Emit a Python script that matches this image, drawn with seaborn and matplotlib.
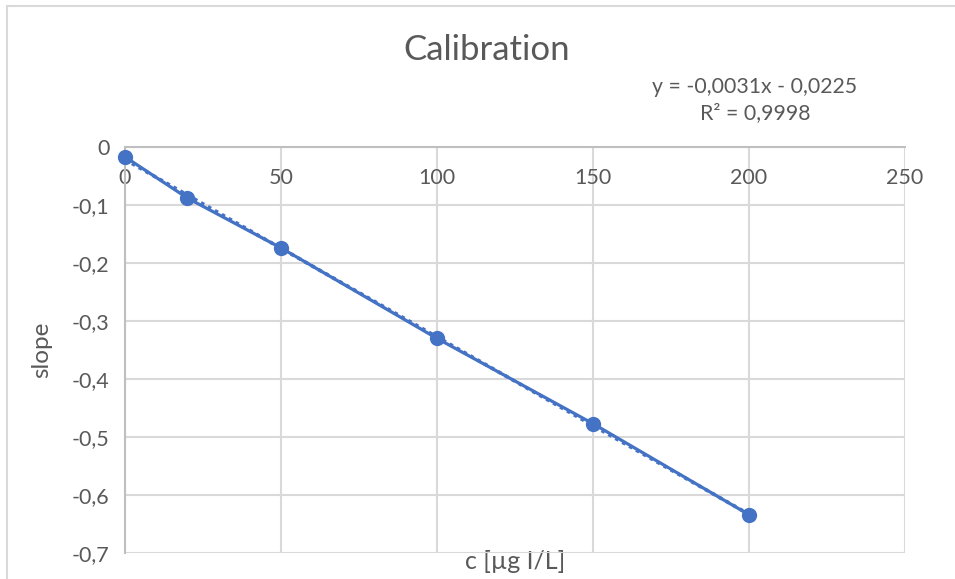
import numpy as np
import pandas as pd
import matplotlib
matplotlib.use("Agg")
import matplotlib.pyplot as plt
import seaborn as sns
from matplotlib.patches import Rectangle
from matplotlib.ticker import FuncFormatter

# data
conc = [0, 20, 50, 100, 150, 200]
slope = [-0.017, -0.088, -0.174, -0.330, -0.477, -0.634]
x_ticks = [0, 50, 100, 150, 200, 250]
y_ticks = [0, -0.1, -0.2, -0.3, -0.4, -0.5, -0.6, -0.7]
title = "Calibration"
x_label = "c [µg I/L]"
y_label = "slope"
eq_text = "y = -0,0031x - 0,0225\nR² = 0,9998"

df = pd.DataFrame({"c": conc, "slope": slope})

sns.set_theme(style="white")
plt.rcParams["font.family"] = ["Lato", "DejaVu Sans"]
TXT = "#595959"
BLUE = "#4472C4"
GRID = "#d9d9d9"

fig = plt.figure(figsize=(9.55, 5.79), dpi=100)
fig.patch.set_facecolor("white")
# chart border (extends beyond right/bottom edges)
fig.patches.append(Rectangle((7 / 955, -0.1), 1.2, 1 - 6 / 579 + 0.1,
                             transform=fig.transFigure, fill=False,
                             edgecolor="#d9d9d9", linewidth=1.5, zorder=0))

ax = fig.add_axes([125 / 955, 1 - 553 / 579, 780 / 955, 406 / 579])

# trendline (dotted)
sns.regplot(data=df, x="c", y="slope", ax=ax, scatter=False, ci=None,
            line_kws=dict(color=BLUE, linestyle=(0, (1, 1.2)), linewidth=2.6), truncate=True)
# data line with markers
sns.lineplot(data=df, x="c", y="slope", ax=ax, color=BLUE, linewidth=2.3,
             marker="o", markersize=11, markeredgewidth=0, zorder=5, clip_on=False)

ax.set_xlim(0, 250)
ax.set_ylim(-0.7, 0)
ax.set_xticks(x_ticks)
ax.set_yticks(y_ticks)
ax.yaxis.set_major_formatter(FuncFormatter(lambda v, p: ("%g" % round(v, 2)).replace(".", ",")))
ax.xaxis.set_major_formatter(FuncFormatter(lambda v, p: "%g" % v))
ax.grid(True, color=GRID, linewidth=1.5)
ax.set_axisbelow(True)
for s in ["right", "bottom"]:
    ax.spines[s].set_visible(False)
for s in ["left", "top"]:
    ax.spines[s].set_color("#bfbfbf")
    ax.spines[s].set_linewidth(1.5)

ax.tick_params(axis="x", bottom=False, top=False, labelbottom=False, labeltop=True,
               labelsize=15.5, labelcolor=TXT, pad=-15, length=0)
ax.tick_params(axis="y", left=False, labelsize=15.5, labelcolor=TXT, pad=11, length=0)
for t in ax.xaxis.get_major_ticks():
    t.label2.set_va("top")

ax.xaxis.set_label_position("bottom")
ax.set_xlabel(x_label, fontsize=18, color=TXT, labelpad=-2)
ax.set_ylabel(y_label, fontsize=17.5, color=TXT, labelpad=14)

fig.text(487 / 955, 1 - 50 / 579, title, fontsize=25, color=TXT, ha="center", va="center")
fig.text(755 / 955, 1 - 100 / 579, eq_text, fontsize=15.3, color=TXT, ha="center",
         va="center", linespacing=1.35)

fig.savefig("out.png", dpi=100, facecolor="white")
